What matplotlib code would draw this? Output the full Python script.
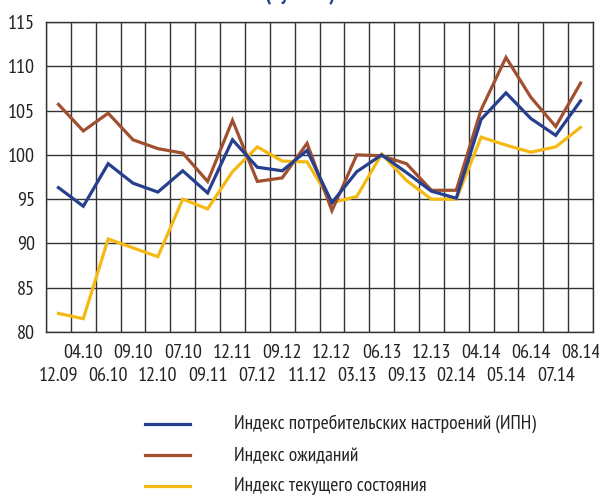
import matplotlib
matplotlib.use("Agg")
import matplotlib.pyplot as plt
from matplotlib.lines import Line2D

plt.rcParams["font.family"] = ["PT Sans Narrow", "DejaVu Sans"]

BLUE, BROWN, YELLOW = "#263f8f", "#a0502f", "#f5b914"
GRID = "#333333"

# месяцы опроса
months = ["12.09", "04.10", "06.10", "09.10", "12.10", "07.10", "09.11", "12.11",
          "07.12", "09.12", "11.12", "12.12", "03.13", "06.13", "09.13", "12.13",
          "02.14", "04.14", "05.14", "06.14", "07.14", "08.14"]

ipn = [96.3, 94.2, 99.0, 96.8, 95.8, 98.2, 95.7, 101.7, 98.6, 98.2, 100.5,
       94.6, 98.1, 100.0, 98.0, 95.9, 95.1, 104.0, 107.0, 104.1, 102.2, 106.1]
expect = [105.7, 102.7, 104.7, 101.7, 100.7, 100.2, 97.0, 103.9, 97.0, 97.4, 101.3,
          93.7, 100.0, 99.9, 99.0, 96.0, 96.0, 105.1, 111.0, 106.5, 103.2, 108.1]
current = [82.1, 81.5, 90.5, 89.5, 88.5, 95.0, 93.9, 98.1, 100.9, 99.3, 99.2,
           94.6, 95.3, 100.1, 97.1, 95.0, 95.0, 102.0, 101.1, 100.3, 100.9, 103.1]

names = ["Индекс потребительских настроений (ИПН)", "Индекс ожиданий",
         "Индекс текущего состояния"]

fig = plt.figure(figsize=(5.99, 4.95), dpi=100)
ax = fig.add_axes([46 / 599, 1 - 332 / 495, 547 / 599, 310 / 495])

x = list(range(len(months)))
for vals, c in zip([current, expect, ipn], [YELLOW, BROWN, BLUE]):
    ax.plot(x, vals, color=c, lw=2.3, solid_joinstyle="miter")

ax.set_xlim(-0.5, len(months) - 0.5)
ax.set_ylim(80, 115)
ax.set_yticks(range(80, 116, 5))
ax.tick_params(axis="y", length=0, pad=8, labelsize=14.5, labelcolor="#222222")

# сетка: вертикальные линии между месяцами
for i in range(len(months) + 1):
    ax.axvline(i - 0.5, color=GRID, lw=1.0, zorder=0)
for v in range(80, 116, 5):
    ax.axhline(v, color=GRID, lw=1.0, zorder=0)
for s in ax.spines.values():
    s.set_color(GRID)
    s.set_linewidth(1.0)

# подписи месяцев в два ряда: нечётные сверху, чётные снизу
ax.set_xticks(x[1::2])
ax.set_xticklabels(months[1::2])
ax.set_xticks(x[0::2], minor=True)
ax.set_xticklabels(months[0::2], minor=True)
ax.tick_params(axis="x", which="major", length=0, pad=9, labelsize=14.5, labelcolor="#222222")
ax.tick_params(axis="x", which="minor", length=0, pad=25, labelsize=14.5, labelcolor="#222222")

# обрезанный заголовок сверху
fig.text(301 / 599, 1 - 0.5 / 495, "(пункты)", ha="center", va="baseline",
         color=BLUE, fontsize=16, fontweight="bold")

# легенда вручную
for k, (name, c) in enumerate(zip(names, [BLUE, BROWN, YELLOW])):
    yy = 1 - (424 + k * 31) / 495
    fig.add_artist(Line2D([145 / 599, 190 / 599], [yy, yy], color=c, lw=2.3))
    fig.text(234 / 599, yy, name, ha="left", va="center", fontsize=14, color="#222222")

fig.savefig("out.png", dpi=100)
